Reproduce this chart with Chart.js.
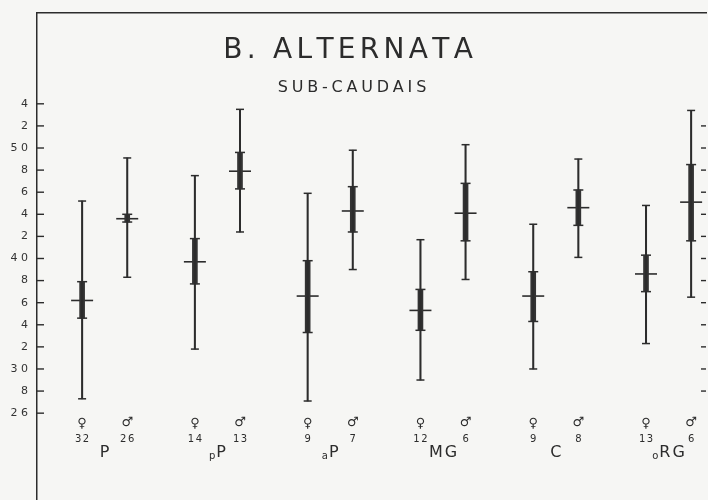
<!DOCTYPE html>
<html>
<head>
<meta charset="utf-8">
<title>B. alternata - sub-caudais</title>
<script src="https://cdn.jsdelivr.net/npm/chart.js@4"></script>
<style>
  body { margin: 0; background: #f6f6f4; }
  canvas { display: block; }
</style>
</head>
<body>
<canvas id="chart" width="708" height="500"></canvas>
<script>
// groups (first lowercase letter is printed small, as in the original)
const groups = ['P', 'pP', 'aP', 'MG', 'C', 'oRG'];
const femaleN = [32, 14, 9, 12, 9, 13];
const maleN = [26, 13, 7, 6, 8, 6];

// females
const femaleMin = [27.3, 31.8, 27.1, 29.0, 30.0, 32.3];
const femaleMax = [45.2, 47.5, 45.9, 41.7, 43.1, 44.8];
const femaleLow = [34.6, 37.7, 33.3, 33.5, 34.3, 37.0];
const femaleHigh = [37.9, 41.8, 39.8, 37.2, 38.8, 40.3];
const femaleMean = [36.2, 39.7, 36.6, 35.3, 36.6, 38.6];

// males
const maleMin = [38.3, 42.4, 39.0, 38.1, 40.1, 36.5];
const maleMax = [49.1, 53.5, 49.8, 50.3, 49.0, 53.4];
const maleLow = [43.3, 46.3, 42.4, 41.6, 43.0, 41.6];
const maleHigh = [44.0, 49.6, 46.5, 46.8, 46.2, 48.5];
const maleMean = [43.6, 47.9, 44.3, 44.1, 44.6, 45.1];

const yTicks = [26, 28, 30, 32, 34, 36, 38, 40, 42, 44, 46, 48, 50, 52, 54];

const ink = '#2c2c2c';
const maleOffset = 0.4;

function pairs(fn) {
  const out = [];
  groups.forEach((g, i) => {
    out.push(fn(i, i, 'f'));
    out.push(fn(i, i + maleOffset, 'm'));
  });
  return out;
}

const rangeData = pairs((i, x, s) => ({ x: x, y: s === 'f' ? [femaleMin[i], femaleMax[i]] : [maleMin[i], maleMax[i]] }));
const seData = pairs((i, x, s) => ({ x: x, y: s === 'f' ? [femaleLow[i], femaleHigh[i]] : [maleLow[i], maleHigh[i]] }));
const endPoints = [];
const sePoints = [];
groups.forEach((g, i) => {
  endPoints.push({ x: i, y: femaleMin[i] }, { x: i, y: femaleMax[i] });
  endPoints.push({ x: i + maleOffset, y: maleMin[i] }, { x: i + maleOffset, y: maleMax[i] });
  sePoints.push({ x: i, y: femaleLow[i] }, { x: i, y: femaleHigh[i] });
  sePoints.push({ x: i + maleOffset, y: maleLow[i] }, { x: i + maleOffset, y: maleHigh[i] });
});
const meanData = pairs((i, x, s) => ({ x: x, y: s === 'f' ? femaleMean[i] : maleMean[i] }));

function drawSpaced(ctx, text, cx, y, spacing) {
  const chars = text.split('');
  const widths = chars.map(c => ctx.measureText(c).width);
  const total = widths.reduce((a, b) => a + b, 0) + spacing * (chars.length - 1);
  let x = cx - total / 2;
  ctx.textAlign = 'left';
  chars.forEach((c, k) => {
    ctx.fillText(c, x, y);
    x += widths[k] + spacing;
  });
}

const decor = {
  id: 'decor',
  beforeDraw(chart) {
    const ctx = chart.ctx;
    ctx.save();
    ctx.fillStyle = '#f6f6f4';
    ctx.fillRect(0, 0, chart.width, chart.height);
    ctx.restore();
  },
  afterDraw(chart) {
    const ctx = chart.ctx;
    const xs = chart.scales.x;
    const ys = chart.scales.y;
    const area = chart.chartArea;
    ctx.save();
    ctx.strokeStyle = ink;
    ctx.fillStyle = ink;
    ctx.lineWidth = 1.4;

    // inward tick marks, left and right
    yTicks.forEach(v => {
      const py = ys.getPixelForValue(v);
      ctx.beginPath();
      ctx.moveTo(area.left, py);
      ctx.lineTo(area.left + 7, py);
      ctx.stroke();
      if (v > 26 && v < 54) {
        ctx.beginPath();
        ctx.moveTo(area.right - 5, py);
        ctx.lineTo(area.right, py);
        ctx.stroke();
      }
    });

    // title
    ctx.textBaseline = 'alphabetic';
    ctx.font = '28px "DejaVu Sans"';
    drawSpaced(ctx, 'B. ALTERNATA', 348, 58, 4.3);
    ctx.font = '16px "DejaVu Sans"';
    drawSpaced(ctx, 'SUB-CAUDAIS', 352, 92, 3.8);

    // sex symbols, counts and group names
    ctx.textBaseline = 'middle';
    groups.forEach((g, i) => {
      const fx = xs.getPixelForValue(i);
      const mx = xs.getPixelForValue(i + maleOffset);
      ctx.font = '13px "DejaVu Sans"';
      ctx.textAlign = 'center';
      ctx.fillText('\u2640', fx, 424);
      ctx.fillText('\u2642', mx, 423);
      ctx.font = '10px "DejaVu Sans"';
      drawSpaced(ctx, String(femaleN[i]), fx, 439, 1.5);
      drawSpaced(ctx, String(maleN[i]), mx, 439, 1.5);

      const cx = xs.getPixelForValue(i + maleOffset / 2);
      let prefix = '';
      let name = g;
      if (g[0] !== g[0].toUpperCase()) {
        prefix = g[0];
        name = g.slice(1);
      }
      ctx.font = '16px "DejaVu Sans"';
      const nameW = ctx.measureText(name).width + 2 * (name.length - 1);
      ctx.font = '10px "DejaVu Sans"';
      const preW = prefix ? ctx.measureText(prefix).width + 1 : 0;
      const start = cx - (nameW + preW) / 2;
      if (prefix) {
        ctx.textAlign = 'left';
        ctx.fillText(prefix, start, 456);
      }
      ctx.font = '16px "DejaVu Sans"';
      drawSpaced(ctx, name, start + preW + nameW / 2, 453, 2);
    });
    ctx.restore();
  }
};

new Chart(document.getElementById('chart').getContext('2d'), {
  type: 'bar',
  data: {
    datasets: [
      {
        label: 'range',
        data: rangeData,
        backgroundColor: ink,
        barThickness: 1.4,
        grouped: false
      },
      {
        label: 'se',
        data: seData,
        backgroundColor: '#333333',
        barThickness: 5,
        grouped: false
      },
      {
        type: 'line',
        label: 'range ends',
        data: endPoints,
        showLine: false,
        pointStyle: 'line',
        pointRadius: 4,
        pointBorderWidth: 1.5,
        pointBorderColor: ink
      },
      {
        type: 'line',
        label: 'se ends',
        data: sePoints,
        showLine: false,
        pointStyle: 'line',
        pointRadius: 5,
        pointBorderWidth: 1.5,
        pointBorderColor: ink
      },
      {
        type: 'line',
        label: 'mean',
        data: meanData,
        showLine: false,
        pointStyle: 'line',
        pointRadius: 11,
        pointBorderWidth: 1.6,
        pointBorderColor: ink
      }
    ]
  },
  options: {
    responsive: false,
    animation: false,
    layout: { autoPadding: false, padding: { top: 13, right: 2, bottom: 0, left: 0 } },
    plugins: {
      legend: { display: false },
      tooltip: { enabled: false }
    },
    scales: {
      x: {
        type: 'linear',
        position: 'top',
        min: -0.4,
        max: 5.532,
        offset: false,
        grid: { display: false, drawTicks: false },
        ticks: { display: false },
        border: { display: true, color: ink, width: 1.5 }
      },
      y: {
        type: 'linear',
        min: 18.14,
        max: 62.22,
        grid: { display: false, drawTicks: false },
        border: { display: true, color: ink, width: 1.5 },
        afterBuildTicks: scale => {
          scale.ticks = yTicks.map(v => ({ value: v }));
        },
        afterFit: scale => {
          scale.width = 37;
          scale.paddingTop = 0;
          scale.paddingBottom = 0;
        },
        ticks: {
          padding: 9,
          color: '#333',
          font: { family: 'DejaVu Sans', size: 11 },
          callback: v => (v % 10 === 0 || v === 26) ? String(v).split('').join(' ') : String(v % 10)
        }
      }
    }
  },
  plugins: [decor]
});
</script>
</body>
</html>
